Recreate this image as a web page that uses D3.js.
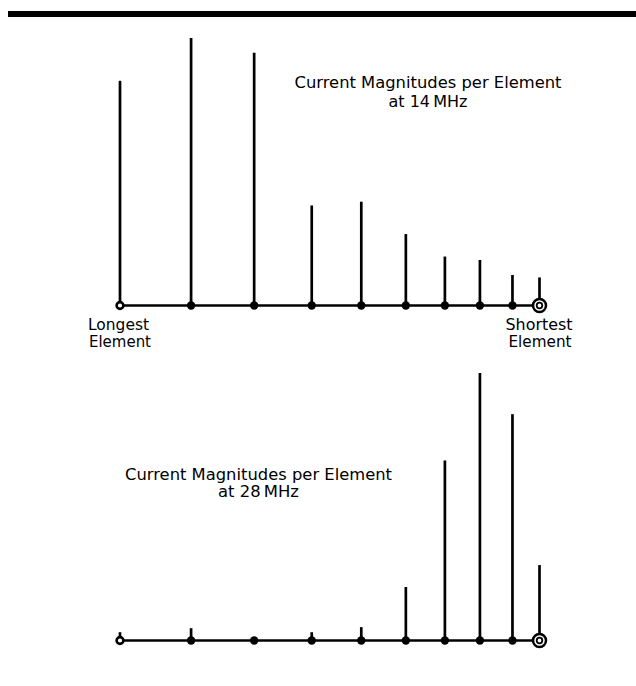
<!DOCTYPE html>
<html>
<head>
<meta charset="utf-8">
<script src="https://cdn.jsdelivr.net/npm/d3@7"></script>
<style>
  html, body { margin: 0; padding: 0; background: #fff; }
  svg { display: block; }
  text { font-family: "DejaVu Sans", sans-serif; fill: #000; }
</style>
</head>
<body>
<svg id="chart" width="636" height="686"></svg>
<script>
// Element positions along the boom (relative units, longest element at 0)
const elementPositions = [0, 71, 134, 191.5, 241, 285.5, 324.5, 359.5, 392, 419];
// Relative current magnitudes (normalized to the maximum)
const current14MHz = [0.84, 1.00, 0.945, 0.374, 0.388, 0.267, 0.183, 0.170, 0.114, 0.105];
const current28MHz = [0.031, 0.046, 0.010, 0.031, 0.050, 0.200, 0.673, 1.00, 0.846, 0.282];
const title14 = ["Current Magnitudes per Element", "at 14\u2009MHz"];
const title28 = ["Current Magnitudes per Element", "at 28\u2009MHz"];
const endLabelsLeft = ["Longest", "Element"];
const endLabelsRight = ["Shortest", "Element"];

const svg = d3.select("#chart");

// Top heavy rule
svg.append("rect").attr("x", 8).attr("y", 11).attr("width", 628).attr("height", 6).attr("fill", "#000");

const x = d3.scaleLinear()
  .domain([0, d3.max(elementPositions)])
  .range([120, 539.5]);

const h = d3.scaleLinear().domain([0, 1]).range([0, 267.5]);

function panel(values, baseY) {
  const g = svg.append("g");
  g.append("line")
    .attr("x1", x(0)).attr("x2", x(d3.max(elementPositions)))
    .attr("y1", baseY).attr("y2", baseY)
    .attr("stroke", "#000").attr("stroke-width", 2.7);
  g.selectAll("line.stem").data(values).join("line")
    .attr("class", "stem")
    .attr("x1", (d, i) => x(elementPositions[i]))
    .attr("x2", (d, i) => x(elementPositions[i]))
    .attr("y1", baseY)
    .attr("y2", d => baseY - h(d))
    .attr("stroke", "#000").attr("stroke-width", 2.7);
  const n = values.length;
  values.forEach((d, i) => {
    const cx = x(elementPositions[i]);
    if (i === 0) {
      g.append("circle").attr("cx", cx).attr("cy", baseY).attr("r", 3.4)
        .attr("fill", "#fff").attr("stroke", "#000").attr("stroke-width", 2.6);
    } else if (i === n - 1) {
      g.append("circle").attr("cx", cx).attr("cy", baseY).attr("r", 6.5)
        .attr("fill", "#fff").attr("stroke", "#000").attr("stroke-width", 2.5);
      g.append("circle").attr("cx", cx).attr("cy", baseY).attr("r", 2.8)
        .attr("fill", "#fff").attr("stroke", "#000").attr("stroke-width", 1.8);
    } else {
      g.append("circle").attr("cx", cx).attr("cy", baseY).attr("r", 4.2)
        .attr("fill", "#000");
    }
  });
}

panel(current14MHz, 305.5);
panel(current28MHz, 640.5);

function titleBlock(lines, cx, y1, y2, w1, w2) {
  svg.append("text").attr("x", cx).attr("y", y1).attr("text-anchor", "middle")
    .attr("font-size", 15).attr("textLength", w1).attr("lengthAdjust", "spacingAndGlyphs")
    .text(lines[0]);
  svg.append("text").attr("x", cx).attr("y", y2).attr("text-anchor", "middle")
    .attr("font-size", 15).attr("textLength", w2).attr("lengthAdjust", "spacingAndGlyphs")
    .text(lines[1]);
}
titleBlock(title14, 428, 88.3, 106.7, 267, 79);
titleBlock(title28, 258.5, 480, 497, 267, 81);

function endLabel(lines, xl, w) {
  svg.append("text").attr("x", xl).attr("y", 329.5).attr("font-size", 15)
    .attr("textLength", w[0]).attr("lengthAdjust", "spacingAndGlyphs").text(lines[0]);
  svg.append("text").attr("x", xl + (w[2] || 0)).attr("y", 346.5).attr("font-size", 15)
    .attr("textLength", w[1]).attr("lengthAdjust", "spacingAndGlyphs").text(lines[1]);
}
endLabel(endLabelsLeft, 88, [61, 62, 1]);
endLabel(endLabelsRight, 505.5, [67, 63, 3]);
</script>
</body>
</html>
